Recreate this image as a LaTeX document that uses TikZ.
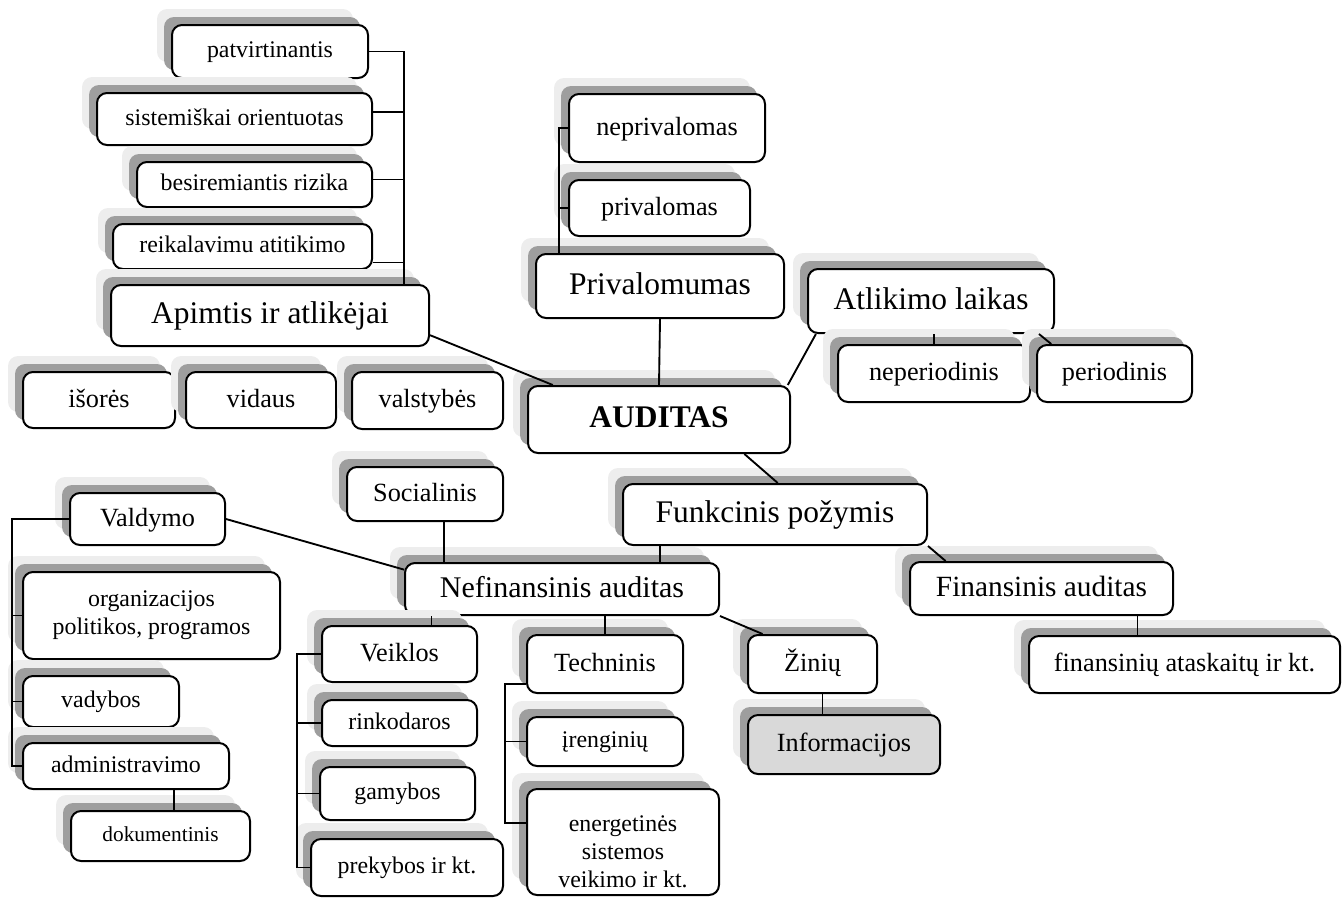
\documentclass[tikz,border=0pt]{standalone}
\usepackage{fontspec}
\setmainfont{Liberation Serif}
\usetikzlibrary{shadows,calc}
\definecolor{shlight}{gray}{0.93}
\definecolor{shdark}{gray}{0.62}
\definecolor{infofill}{gray}{0.85}
\tikzset{
  box/.style={draw, line width=1.5pt, rounded corners=7.5pt, fill=white, align=center, inner sep=0pt,
    general shadow={fill=shlight, shadow xshift=-11.25pt, shadow yshift=12pt},
    general shadow={fill=shdark, shadow xshift=-6pt, shadow yshift=6pt}},
  wh/.style 2 args={minimum width=#1*0.75pt, minimum height=#2*0.75pt},
  big/.style={font=\fontsize{23.6}{28}\selectfont, text height=17.7pt, text depth=5pt},
  mid/.style={font=\fontsize{19.7}{24}\selectfont, text height=14.8pt, text depth=4.1pt},
  sml/.style={font=\fontsize{17.9}{21}\selectfont, text height=13.4pt, text depth=3.8pt},
  smllines/.style={font=\fontsize{17.9}{21}\selectfont},
  link/.style={line width=1.4pt}
}
\begin{document}
\begin{tikzpicture}[x=0.75pt,y=-0.75pt]
  \useasboundingbox (0,0) rectangle (1344,897);
  % apimtis
  \node[box,sml,wh={196}{53}] (P1) at (270,51.5) {patvirtinantis};
  \node[box,sml,wh={275}{52}] (P2) at (234.5,119) {sistemiškai orientuotas};
  \node[box,sml,wh={235}{45}] (P3) at (254.5,184.5) {besiremiantis rizika};
  \node[box,sml,wh={259}{45}] (P4) at (242.5,246.5) {reikalavimu atitikimo};
  \node[box,big,wh={318}{61}] (A) at (270,315.5) {Apimtis ir atlikėjai};
  \node[box,mid,wh={152}{56}] (IZ) at (99,400) {išorės};
  \node[box,mid,wh={150}{56}] (VI) at (261,400) {vidaus};
  \node[box,mid,wh={151}{57}] (VA) at (427.5,400.5) {valstybės};
  % privalomumas
  \node[box,mid,wh={196}{68}] (N1) at (667,128) {neprivalomas};
  \node[box,mid,wh={181}{56}] (N2) at (659.5,208) {privalomas};
  \node[box,big,wh={248}{64}] (PR) at (660,286) {Privalomumas};
  % atlikimo laikas
  \node[box,big,wh={246}{64}] (AL) at (931,301) {Atlikimo laikas};
  \node[box,mid,wh={192}{57}] (NP) at (934,373.5) {neperiodinis};
  \node[box,mid,wh={155}{57}] (PE) at (1114.5,373.5) {periodinis};
  \node[box,big,wh={262}{67},font=\fontsize{23.6}{28}\selectfont\bfseries] (AUD) at (659,419.5) {AUDITAS};
  % funkcinis
  \node[box,mid,wh={156}{54}] (SO) at (425,494) {Socialinis};
  \node[box,mid,wh={155}{52}] (VD) at (147.5,519) {Valdymo};
  \node[box,big,wh={304}{61}] (FP) at (775,514.5) {Funkcinis požymis};
  \node[box,wh={314}{52},font=\fontsize{22.5}{27}\selectfont,text height=16.8pt,text depth=4.7pt] (NF) at (562,589) {Nefinansinis auditas};
  \node[box,wh={263}{53},font=\fontsize{22}{26}\selectfont,text height=16.5pt,text depth=4.6pt] (FI) at (1041.5,588.5) {Finansinis auditas};
  \node[box,smllines,wh={257}{87}] (OR) at (151.5,615.5) {organizacijos\\politikos, programos};
  \node[box,mid,wh={155}{56}] (VE) at (399.5,654) {Veiklos};
  \node[box,mid,wh={156}{58}] (TE) at (605,664) {Techninis};
  \node[box,mid,wh={129}{58}] (ZI) at (812.5,664) {Žinių};
  \node[box,mid,wh={311}{57}] (FK) at (1184.5,664.5) {finansinių ataskaitų ir kt.};
  \node[box,sml,wh={156}{51}] (VB) at (101,701.5) {vadybos};
  \node[box,sml,wh={155}{46}] (RK) at (399.5,723) {rinkodaros};
  \node[box,sml,wh={156}{49}] (IR) at (605,741.5) {įrenginių};
  \node[box,mid,wh={192}{59},fill=infofill] (IN) at (844,744.5) {Informacijos};
  \node[box,sml,wh={206}{46}] (AD) at (126,766) {administravimo};
  \node[box,sml,wh={155}{53}] (GA) at (397.5,793.5) {gamybos};
  \node[box,wh={179}{50},font=\fontsize{16}{19}\selectfont,text height=12pt,text depth=3.4pt] (DK) at (160.5,836) {dokumentinis};
  \node[box,sml,wh={192}{57}] (PK) at (407,867.5) {prekybos ir kt.};
  \node[box,smllines,wh={192}{106}] (EN) at (623,842) {\rule{0pt}{26pt}energetinės\\sistemos\\veikimo ir kt.};
  % connectors
  \coordinate (abar) at (404,0);
  \coordinate (p2) at ($(P2.east)+(0,-7)$);
  \coordinate (p3) at ($(P3.east)+(0,-5)$);
  \coordinate (p4) at ($(P4.east)+(0,16)$);
  \draw[link] (P1.east) -- (P1.east -| abar) -- (abar |- A.north);
  \draw[link] (p2) -- (p2 -| abar);
  \draw[link] (p3) -- (p3 -| abar);
  \draw[link] (p4) -- (p4 -| abar);
  \coordinate (pbar) at (559,0);
  \draw[link] (N1.west) -- (N1.west -| pbar) -- (pbar |- PR.north);
  \draw[link] (N2.west) -- (N2.west -| pbar);
  \draw[link] (PR.south) -- (AUD.north);
  \draw[link] (A.-7) -- (AUD.162);
  \draw[link] (AUD.15.5) -- (AL.196);
  \draw[link] (NP.north) -- (NP.north |- AL.south);
  \draw[link] (AL.-17) -- (PE.155);
  \draw[link] (AUD.-22) -- (FP.85);
  \coordinate (fn) at ($(NF.north)+(98,0)$);
  \draw[link] (fn) -- (fn |- FP.south);
  \draw[link] (FP.south east) -- (FI.164);
  \coordinate (ff) at ($(FI.south)+(96,0)$);
  \draw[link] (ff) -- (ff |- FK.north);
  \coordinate (sn) at ($(SO.south)+(19,0)$);
  \draw[link] (sn) -- (sn |- NF.north);
  \draw[link] (VD.east) -- (NF.173);
  \coordinate (nv) at ($(VE.north)+(32,0)$);
  \draw[link] (nv) -- (nv |- NF.south);
  \draw[link] (TE.north) -- (TE.north |- NF.south);
  \draw[link] (NF.south east) -- (ZI.149);
  \coordinate (zi) at ($(ZI.south)+(10,0)$);
  \draw[link] (zi) -- (zi |- IN.north);
  % valdymo
  \coordinate (vbar) at (12,0);
  \draw[link] (VD.west) -- (VD.west -| vbar) -- (vbar |- AD.west) -- (AD.west);
  \draw[link] (OR.west -| vbar) -- (OR.west);
  \draw[link] (VB.west -| vbar) -- (VB.west);
  \coordinate (ad) at ($(AD.south)+(48,0)$);
  \draw[link] (ad) -- (ad |- DK.north);
  % veiklos
  \coordinate (vebar) at (297,0);
  \draw[link] (VE.west) -- (VE.west -| vebar) -- (vebar |- PK.west) -- (PK.west);
  \draw[link] (RK.west -| vebar) -- (RK.west);
  \draw[link] (GA.west -| vebar) -- (GA.west);
  % techninis
  \coordinate (tbar) at (505,0);
  \coordinate (te) at ($(TE.south west)+(0,-10)$);
  \coordinate (en) at ($(EN.north west)+(0,35)$);
  \draw[link] (te) -- (te -| tbar) -- (tbar |- en) -- (en);
  \draw[link] (IR.west -| tbar) -- (IR.west);
\end{tikzpicture}
\end{document}
